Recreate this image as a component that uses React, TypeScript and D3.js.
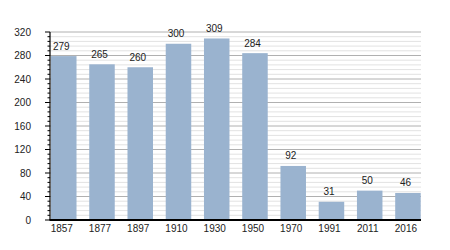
import React from "react";
import * as d3 from "d3";

const years = ["1857", "1877", "1897", "1910", "1930", "1950", "1970", "1991", "2011", "2016"];
const population = [279, 265, 260, 300, 309, 284, 92, 31, 50, 46];
const yMajorTicks = [0, 40, 80, 120, 160, 200, 240, 280, 320];

export default function App() {
  const width = 450;
  const height = 250;
  const x0 = 50;
  const x1 = 421;
  const y = d3.scaleLinear().domain([0, 320]).range([220, 32]);
  const x = d3
    .scaleBand<string>()
    .domain(years)
    .range([x0 + 1, x1 - 0.3])
    .paddingInner(0.333)
    .paddingOuter(0)
    .align(0);
  const minor = d3.range(0, 321, 8).filter((v) => v % 40 !== 0);
  const font = "'Liberation Sans', Arial, sans-serif";
  return (
    <svg
      width={width}
      height={height}
      style={{ position: "absolute", left: 0, top: 0, background: "#fff" }}
    >
      {minor.map((v) => (
        <line key={"m" + v} x1={x0} x2={x1} y1={y(v)} y2={y(v)} stroke="#e2e2e2" strokeWidth={1} />
      ))}
      {yMajorTicks.map((v) => (
        <line key={"g" + v} x1={x0} x2={x1} y1={y(v)} y2={y(v)} stroke="#b0b0b0" strokeWidth={1} />
      ))}
      {years.map((yr, i) => (
        <rect
          key={yr}
          x={x(yr)}
          y={y(population[i])}
          width={x.bandwidth()}
          height={y(0) - y(population[i])}
          fill="#9ab3cf"
        />
      ))}
      {years.map((yr, i) => (
        <text
          key={"l" + yr}
          x={(x(yr) as number) + x.bandwidth() / 2 - 2.5}
          y={y(population[i]) - 6.5}
          textAnchor="middle"
          fontFamily={font}
          fontSize={10}
          fill="#222"
        >
          {population[i]}
        </text>
      ))}
      {years.map((yr) => (
        <text
          key={"x" + yr}
          x={(x(yr) as number) + x.bandwidth() / 2 - 2}
          y={231.5}
          textAnchor="middle"
          fontFamily={font}
          fontSize={10}
          fill="#222"
        >
          {yr}
        </text>
      ))}
      {minor.map((v) => (
        <line key={"mt" + v} x1={x0 - 2.5} x2={x0} y1={y(v)} y2={y(v)} stroke="#000" strokeWidth={1} />
      ))}
      {yMajorTicks.map((v) => (
        <line key={"t" + v} x1={x0 - 5} x2={x0} y1={y(v)} y2={y(v)} stroke="#000" strokeWidth={1} />
      ))}
      {yMajorTicks.map((v) => (
        <text
          key={"yl" + v}
          x={31}
          y={y(v) + 3.5}
          textAnchor="end"
          fontFamily={font}
          fontSize={10}
          fill="#222"
        >
          {v}
        </text>
      ))}
      <line x1={x0} x2={x0} y1={y(320)} y2={y(0)} stroke="#000" strokeWidth={1.2} />
      <line x1={x0 - 0.5} x2={x1} y1={y(0)} y2={y(0)} stroke="#000" strokeWidth={2} />
    </svg>
  );
}
